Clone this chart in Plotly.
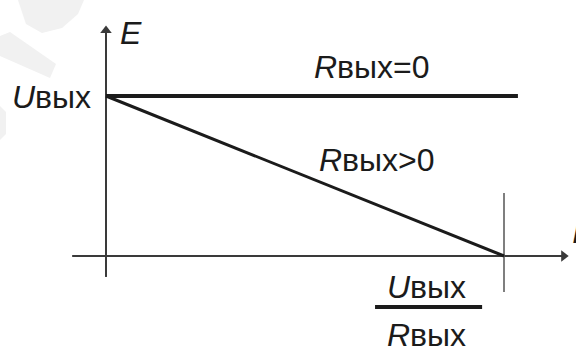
import plotly.graph_objects as go

# ---- data (normalised units: E in units of Uвых, I in units of Uвых/Rвых)
x_ideal = [0.0, 1.035]      # Rвых = 0
e_ideal = [1.0, 1.0]
x_real = [0.0, 1.0]         # Rвых > 0
e_real = [1.0, 0.0]
x_axis_x = [-0.085, 1.150]
x_axis_y = [0.0, 0.0]
y_axis_x = [0.0, 0.0]
y_axis_y = [-0.131, 1.410]
tick_x = [1.0, 1.0]
tick_y = [0.394, -0.225]

FONT = "Liberation Sans, Arial, sans-serif"
INK = "#1b1b1b"
AX = "#3a3a3a"
W, H = 576, 350

fig = go.Figure()

# faint watermark shapes (top-left), in page pixels -> paper coords
def px_path(pts):
    s = ""
    for i, (px, py) in enumerate(pts):
        s += ("M" if i == 0 else "L") + f"{px / W:.4f},{1 - py / H:.4f} "
    return s + "Z"

for pts in ([(18, 0), (84, 0), (78, 14), (62, 28), (42, 33), (26, 24)],
            [(0, 36), (10, 32), (56, 64), (50, 78), (0, 56)],
            [(0, 106), (6, 112), (6, 134), (0, 140)]):
    fig.add_shape(type="path", path=px_path(pts), xref="paper", yref="paper",
                  fillcolor="#f1f1f1", line=dict(width=0), layer="below")

# axes
for xs, ys, sym in ((x_axis_x, x_axis_y, "triangle-right"),
                    (y_axis_x, y_axis_y, "triangle-up")):
    fig.add_trace(go.Scatter(x=xs, y=ys, mode="lines",
                             line=dict(color=AX, width=2)))
    fig.add_trace(go.Scatter(x=[xs[-1]], y=[ys[-1]], mode="markers",
                             marker=dict(symbol=sym, size=10, color=AX,
                                         line=dict(width=0))))
# tick at I = U/R
fig.add_trace(go.Scatter(x=tick_x, y=tick_y, mode="lines",
                         line=dict(color="#555555", width=1.5)))
# characteristics
fig.add_trace(go.Scatter(x=x_ideal, y=e_ideal, mode="lines",
                         line=dict(color=INK, width=4)))
fig.add_trace(go.Scatter(x=x_real, y=e_real, mode="lines",
                         line=dict(color=INK, width=3)))

# fraction bar
fig.add_shape(type="line", x0=0.676, x1=0.945, y0=-0.319, y1=-0.319,
              line=dict(color=INK, width=4))

fs = 32
def ann(x, y, text, xanchor="center", size=fs):
    fig.add_annotation(x=x, y=y, text=text, showarrow=False, xanchor=xanchor,
                       yanchor="middle",
                       font=dict(family=FONT, size=size, color=INK))

ann(0.030, 1.394, "<i>E</i>", xanchor="left")
ann(-0.033, 0.994, "<i>U</i>вых", xanchor="right")
ann(0.668, 1.181, "<i>R</i>вых=0")
ann(0.681, 0.600, "<i>R</i>вых&gt;0")
ann(0.806, -0.194, "<i>U</i>вых")
ann(0.806, -0.495, "<i>R</i>вых")
ann(1.166, 0.150, "<i>I</i>", xanchor="left")

fig.update_layout(
    width=W, height=H,
    margin=dict(l=0, r=0, t=0, b=0),
    paper_bgcolor="white", plot_bgcolor="white",
    showlegend=False,
    hovermode=False,
    xaxis=dict(range=[-0.2663, 1.1809], visible=False, fixedrange=True),
    yaxis=dict(range=[-0.5875, 1.6], visible=False, fixedrange=True),
)

fig.write_html("out.html", config={"displayModeBar": False},
               post_script="document.body.style.margin='0px';document.body.style.padding='0px';")
